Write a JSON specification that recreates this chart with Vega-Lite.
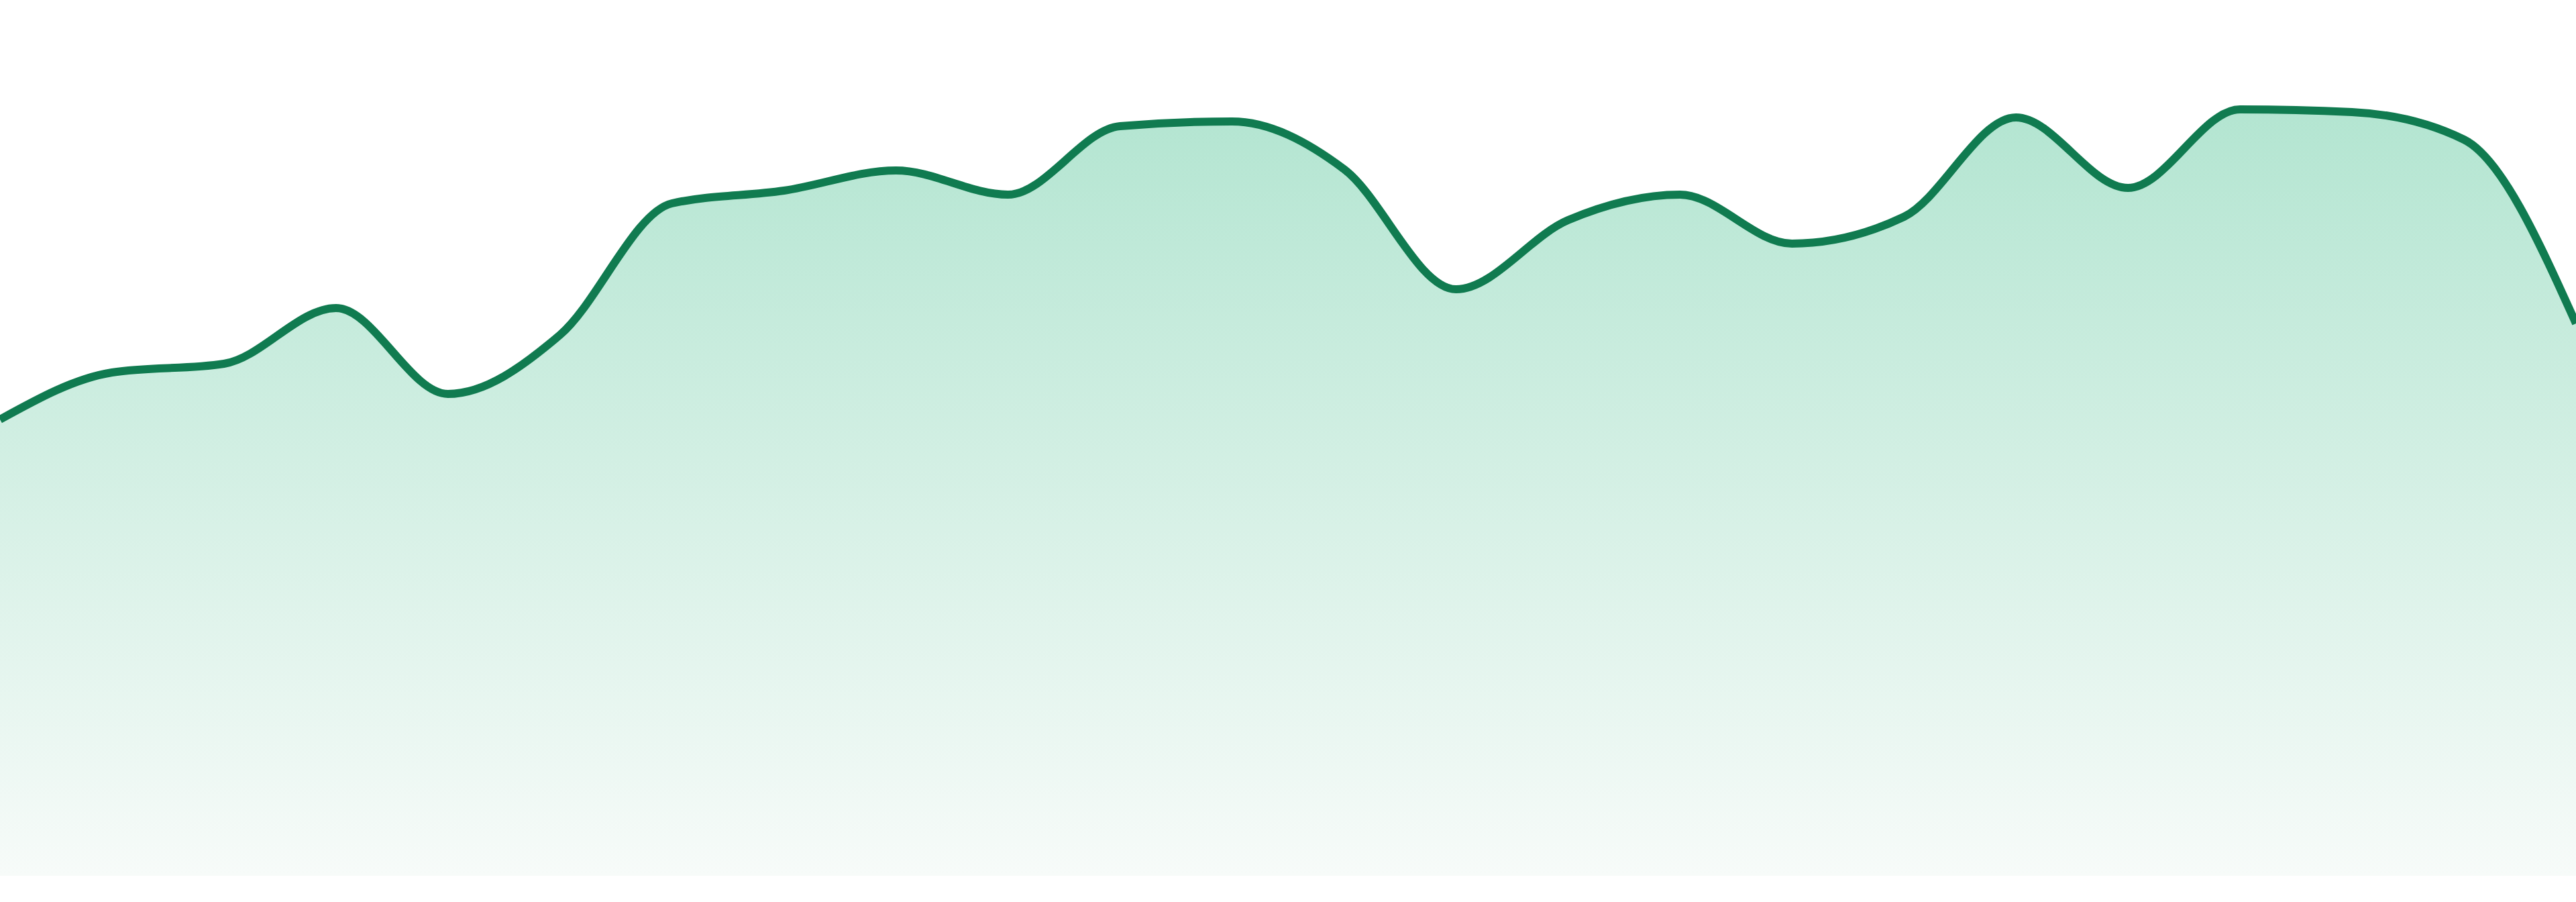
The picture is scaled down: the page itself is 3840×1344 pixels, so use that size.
{
  "$schema": "https://vega.github.io/schema/vega-lite/v6.json",
  "autosize": "none",
  "width": 3840,
  "height": 1305,
  "padding": 0,
  "background": "white",
  "config": {"view": {"stroke": null}},
  "data": {
    "values": [
      {"i": 0, "v": 680},
      {"i": 1, "v": 750},
      {"i": 2, "v": 763},
      {"i": 3, "v": 846},
      {"i": 4, "v": 718},
      {"i": 5, "v": 806},
      {"i": 6, "v": 1002},
      {"i": 7, "v": 1021},
      {"i": 8, "v": 1051},
      {"i": 9, "v": 1015},
      {"i": 10, "v": 1117},
      {"i": 11, "v": 1124},
      {"i": 12, "v": 1053},
      {"i": 13, "v": 874},
      {"i": 14, "v": 977},
      {"i": 15, "v": 1015},
      {"i": 16, "v": 942},
      {"i": 17, "v": 982},
      {"i": 18, "v": 1130},
      {"i": 19, "v": 1025},
      {"i": 20, "v": 1142},
      {"i": 21, "v": 1138},
      {"i": 22, "v": 1097},
      {"i": 23, "v": 823}
    ]
  },
  "encoding": {
    "x": {"field": "i", "type": "quantitative", "axis": null, "scale": {"domain": [0, 23], "nice": false, "zero": false}},
    "y": {"field": "v", "type": "quantitative", "axis": null, "scale": {"domain": [0, 1305], "nice": false}}
  },
  "layer": [
    {
      "mark": {
        "type": "area",
        "interpolate": "monotone",
        "fill": {
          "gradient": "linear",
          "x1": 0, "y1": 0, "x2": 0, "y2": 1,
          "stops": [
            {"offset": 0, "color": "#b3e5d1"},
            {"offset": 1, "color": "#f7fbf9"}
          ]
        }
      }
    },
    {
      "mark": {
        "type": "line",
        "interpolate": "monotone",
        "color": "#107b50",
        "strokeWidth": 12
      }
    }
  ]
}
